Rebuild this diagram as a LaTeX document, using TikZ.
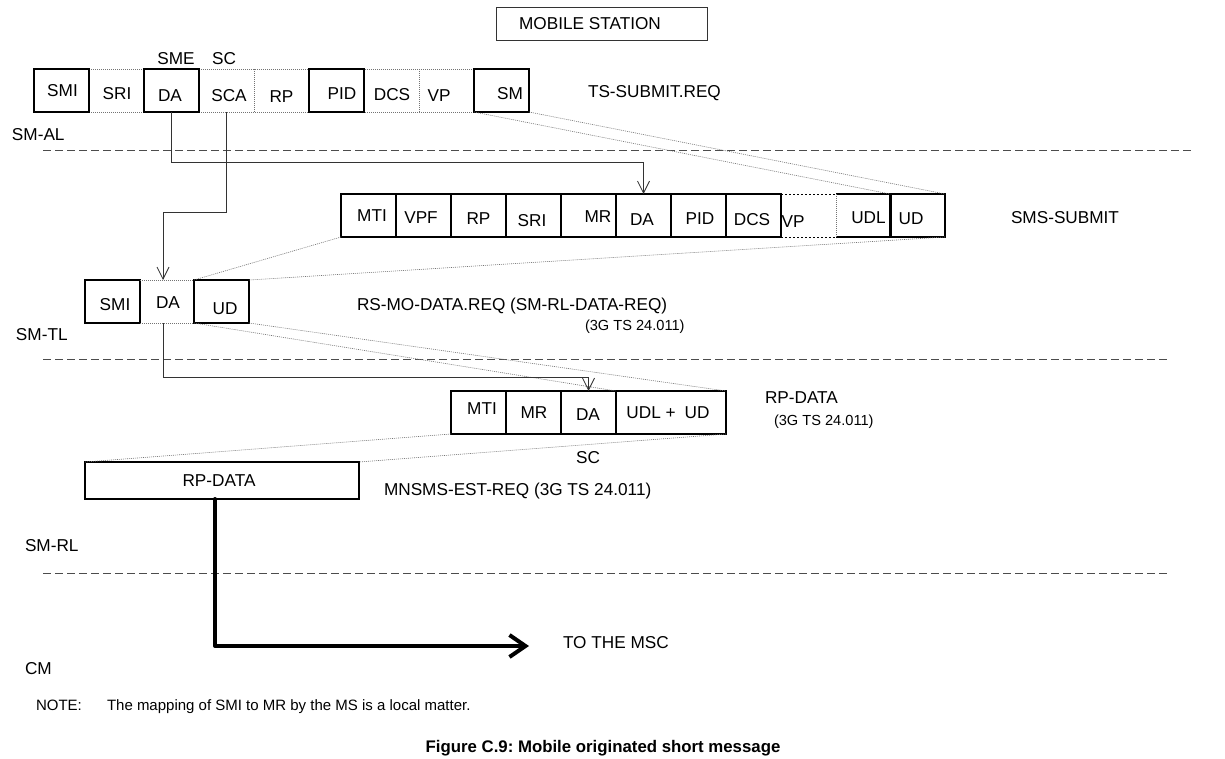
\documentclass[tikz,border=0pt]{standalone}
\usepackage{fontspec}
\setmainfont{Liberation Sans}
\usetikzlibrary{arrows.meta,calc}
\frenchspacing
\begin{document}
\begin{tikzpicture}[x=1pt,y=-1pt,
  every node/.style={font=\fontsize{17.2}{20}\selectfont, inner sep=0pt, outer sep=0pt},
  smalltxt/.style={font=\fontsize{14.6}{17}\selectfont},
  notetxt/.style={font=\fontsize{15}{17}\selectfont},
  cell/.style={anchor=north west, minimum width=55pt, minimum height=43pt},
  box/.style={draw=black, line width=1.1pt},
  dotbox/.style={draw=black!55, line width=0.7pt, dash pattern=on 1pt off 1pt},
  dotblack/.style={draw=black, line width=0.9pt, dash pattern=on 2pt off 2pt},
  maplink/.style={draw=black!55, line width=0.6pt, dash pattern=on 1pt off 1pt},
  conn/.style={draw=black!80, line width=0.8pt, -{Straight Barb[length=12pt,width=12pt,line width=0.8pt]}},
  layer/.style={draw=black!70, line width=1pt, dash pattern=on 8pt off 4pt},
  bigarrow/.style={draw=black, line width=4pt, line join=round, line cap=round,
    -{Straight Barb[length=16pt,width=22pt,line width=4pt]}},
  txt/.style={anchor=base west}
]
\useasboundingbox (0,0) rectangle (1225,759);

% ---------- Mobile station ----------
\node[draw=black!80, line width=0.9pt, anchor=north west, minimum width=211pt, minimum height=33pt] (ms) at (496,7) {};
\node (mstxt) at (590,24) {MOBILE STATION};

% ---------- TS-SUBMIT.REQ row ----------
\node[cell] (aSMI) at (34,69) {};
\node[cell] (aSRI) at (89,69) {};
\node[cell] (aDA)  at (144,69) {};
\node[cell] (aSCA) at (199,69) {};
\node[cell] (aRP)  at (254,69) {};
\node[cell] (aPID) at (309,69) {};
\node[cell] (aDCS) at (364,69) {};
\node[cell] (aVP)  at (419,69) {};
\node[cell] (aSM)  at (474,69) {};
\draw[dotbox] (aSMI.north west) rectangle (aSM.south east);
\draw[dotbox] (aSCA.north east) -- (aSCA.south east);
\draw[dotbox] (aDCS.north east) -- (aDCS.south east);
\foreach \n in {aSMI,aDA,aPID,aSM} \draw[box] (\n.north west) rectangle (\n.south east);
\node at ($(aSMI.center)+(1,0)$) {SMI};
\node at ($(aSRI.center)+(0.5,3.5)$) {SRI};
\node at ($(aDA.center)+(-1.5,5.5)$) {DA};
\node at ($(aSCA.center)+(2.5,5.5)$) {SCA};
\node at ($(aRP.center)+(0,6.5)$) {RP};
\node at ($(aPID.center)+(5.5,3.5)$) {PID};
\node at ($(aDCS.center)+(0.5,4.5)$) {DCS};
\node at ($(aVP.center)+(-7.5,5.5)$) {VP};
\node at ($(aSM.center)+(8.5,3.5)$) {SM};
\node (sme) at (176,59) {SME};
\node (sc1) at (224,59) {SC};
\node[txt] (tsreq) at (588,98) {TS-SUBMIT.REQ};
\node[txt] (smal) at (12,141) {SM-AL};

% ---------- SMS-SUBMIT row ----------
\node[cell,box] (bMTI) at (341,194) {};
\node[cell,box] (bVPF) at (396,194) {};
\node[cell,box] (bRP)  at (451,194) {};
\node[cell,box] (bSRI) at (506,194) {};
\node[cell,box] (bMR)  at (561,194) {};
\node[cell,box] (bDA)  at (616,194) {};
\node[cell,box] (bPID) at (671,194) {};
\node[cell,box] (bDCS) at (726,194) {};
\node[cell] (bVP)  at (781,194) {};
\node[cell] (bUDL) at (836,194) {};
\node[cell,box] (bUD)  at (890,194) {};
\draw[dotblack] (bVP.north west) -- (bVP.north east);
\draw[dotblack] (bVP.south west) -- (bVP.south east);
\draw[box] (bUDL.north west) -- (bUDL.north east) -- (bUDL.south east) -- (bUDL.south west);
\draw[dotbox] (bUDL.north west) -- (bUDL.south west);
\node at ($(bMTI.center)+(3.5,0.5)$) {MTI};
\node at ($(bVPF.center)+(-2.5,2.5)$) {VPF};
\node at ($(bRP.center)+(0,3.5)$) {RP};
\node at ($(bSRI.center)+(-1.5,5.5)$) {SRI};
\node at ($(bMR.center)+(9.5,1.5)$) {MR};
\node at ($(bDA.center)+(-1.5,4.5)$) {DA};
\node at ($(bPID.center)+(1.5,3.5)$) {PID};
\node at ($(bDCS.center)+(-1.5,4.5)$) {DCS};
\node at ($(bVP.center)+(-15.5,6.5)$) {VP};
\node at ($(bUDL.center)+(5,2.5)$) {UDL};
\node at ($(bUD.center)+(-6.5,3.5)$) {UD};
\node[txt] (smssub) at (1011,224) {SMS-SUBMIT};

% ---------- SM-TL row ----------
\node[cell,box] (cSMI) at (85,280) {};
\node[cell,minimum width=54pt] (cDA) at (140,280) {};
\node[cell,box] (cUD) at (194,280) {};
\draw[dotbox] (cSMI.north east) -- (cUD.north west);
\draw[dotbox] (cSMI.south east) -- (cUD.south west);
\node at ($(cSMI.center)+(2.5,3.5)$) {SMI};
\node at ($(cDA.center)+(1,1.5)$) {DA};
\node at ($(cUD.center)+(3.5,7.5)$) {UD};
\node[txt] (rsmo) at (357,310) {RS-MO-DATA.REQ (SM-RL-DATA-REQ)};
\node[txt,smalltxt] (ts1) at (585,330) {(3G TS 24.011)};
\node[txt] (smtl) at (16,340) {SM-TL};

% ---------- RP-DATA row ----------
\node[cell,box] (dMTI) at (451,391) {};
\node[cell,box] (dMR)  at (506,391) {};
\node[cell,box] (dDA)  at (561,391) {};
\node[cell,box,minimum width=110pt] (dUD) at (616,391) {};
\node at ($(dMTI.center)+(3.5,-3.5)$) {MTI};
\node at ($(dMR.center)+(0.5,0.5)$) {MR};
\node at ($(dDA.center)+(-0.5,2.5)$) {DA};
\node at ($(dUD.center)+(-3,0.5)$) {UDL +\hspace{9pt}UD};
\node[txt] (rpdl) at (765,403) {RP-DATA};
\node[txt,smalltxt] (ts2) at (774,425) {(3G TS 24.011)};
\node (sc2) at (588,458) {SC};

% ---------- bottom RP-DATA ----------
\node[box,anchor=north west,minimum width=274pt,minimum height=37pt] (eRP) at (85,462) {};
\node at ($(eRP.center)+(-3,0.5)$) {RP-DATA};
\node[txt] (mnsms) at (384,495) {MNSMS-EST-REQ (3G TS 24.011)};
\node[txt] (smrl) at (25,551) {SM-RL};
\node[txt] (msc) at (563,648) {TO THE MSC};
\node[txt] (cm) at (25,674) {CM};
\node[txt,notetxt] (note) at (36,710) {NOTE:};
\node[txt,notetxt] (notetxt) at (107,710) {The mapping of SMI to MR by the MS is a local matter.};
\node[anchor=base,font=\fontsize{16.8}{20}\selectfont\bfseries] (cap) at (603,752) {Figure C.9: Mobile originated short message};

% ---------- layer separators ----------
\draw[layer] (43,151) -- (1192,151);
\draw[layer] (43,359) -- (1170,359);
\draw[layer] (43,573) -- (1170,573);

% ---------- mapping lines ----------
\draw[maplink] (aSM.south west) -- (bUD.north west);
\draw[maplink] (aSM.south east) -- (bUD.north east);
\draw[maplink] (bMTI.south west) -- (cUD.north west);
\draw[maplink] (bUD.south east) -- (cUD.north east);
\draw[maplink] (cUD.south west) -- (dUD.north west);
\draw[maplink] (cUD.south east) -- (dUD.north east);
\draw[maplink] (dMTI.south west) -- (eRP.north west);
\draw[maplink] (dUD.south east) -- (eRP.north east);

% ---------- DA connectors ----------
\draw[conn] (aDA.south) -- ++(0,50) -| (bDA.north);
\draw[conn] (aSCA.south) -- ++(0,100) -| ($(cDA.north)+(-4,0)$);
\draw[conn] ($(cDA.south)+(-4,0)$) -- ++(0,54) -| (dDA.north);

% ---------- to the MSC ----------
\coordinate (mscend) at (529,646);
\draw[bigarrow] ($(eRP.south)+(-7,0)$) |- (mscend);
\end{tikzpicture}
\end{document}
